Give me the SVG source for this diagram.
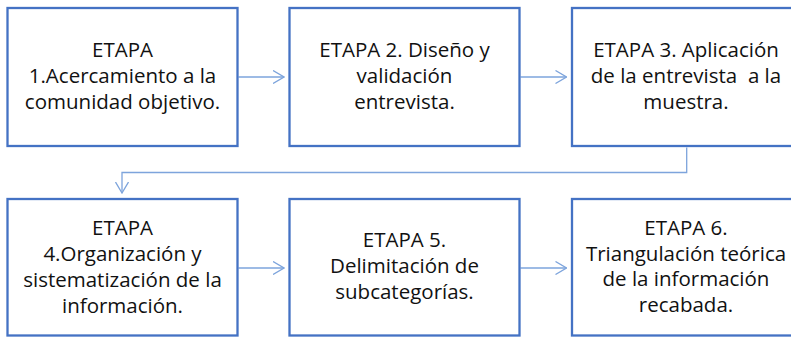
<svg xmlns="http://www.w3.org/2000/svg" width="791" height="337" viewBox="0 0 791 337">
<defs>
<style>
.box{fill:#fff;stroke:#4472C4;stroke-width:2.3}
.t{font-family:"Open Sans","Noto Sans","Liberation Sans",sans-serif;font-size:20.5px;fill:#111;text-anchor:middle;white-space:pre}
.c{fill:none;stroke:#7DA4DC;stroke-width:1.3}
</style>
<marker id="arr" viewBox="0 0 12 14" refX="11.5" refY="7" markerWidth="12" markerHeight="14" markerUnits="userSpaceOnUse" orient="auto">
<path d="M0.5,0.5 L11.5,7 L0.5,13.5" fill="none" stroke="#7DA4DC" stroke-width="1.3"/>
</marker>
</defs>
<rect width="791" height="337" fill="#fff"/>
<g id="connectors">
<line class="c" x1="238.5" y1="77" x2="284" y2="77" marker-end="url(#arr)"/>
<line class="c" x1="520.5" y1="77" x2="566.5" y2="77" marker-end="url(#arr)"/>
<polyline class="c" points="686.7,147.5 686.7,172.5 122,172.5 122,193" marker-end="url(#arr)"/>
<line class="c" x1="238.5" y1="268" x2="284" y2="268" marker-end="url(#arr)"/>
<line class="c" x1="520.5" y1="268" x2="566.5" y2="268" marker-end="url(#arr)"/>
</g>
<g id="n1">
<rect class="box" x="7.5" y="8" width="230" height="138"/>
<text class="t"><tspan x="122.5" y="56.5">ETAPA</tspan><tspan x="122.5" y="82.5">1.Acercamiento a la</tspan><tspan x="122.5" y="108.5">comunidad objetivo.</tspan></text>
</g>
<g id="n2">
<rect class="box" x="289.5" y="8" width="230" height="138"/>
<text class="t"><tspan x="404.5" y="56.5">ETAPA 2. Diseño y</tspan><tspan x="404.5" y="82.5">validación</tspan><tspan x="404.5" y="108.5">entrevista.</tspan></text>
</g>
<g id="n3">
<rect class="box" x="572" y="8" width="229" height="138"/>
<text class="t"><tspan x="686" y="56.5">ETAPA 3. Aplicación</tspan><tspan x="686" y="82.5">de la entrevista  a la</tspan><tspan x="686" y="108.5">muestra.</tspan></text>
</g>
<g id="n4">
<rect class="box" x="7.5" y="199" width="230" height="136.5"/>
<text class="t"><tspan x="122.5" y="235">ETAPA</tspan><tspan x="122.5" y="261">4.Organización y</tspan><tspan x="122.5" y="287">sistematización de la</tspan><tspan x="122.5" y="313">información.</tspan></text>
</g>
<g id="n5">
<rect class="box" x="289.5" y="199" width="230" height="136.5"/>
<text class="t"><tspan x="404.5" y="247">ETAPA 5.</tspan><tspan x="404.5" y="273">Delimitación de</tspan><tspan x="404.5" y="299">subcategorías.</tspan></text>
</g>
<g id="n6">
<rect class="box" x="572" y="199" width="229" height="136.5"/>
<text class="t"><tspan x="686" y="235">ETAPA 6.</tspan><tspan x="686" y="260.5">Triangulación teórica</tspan><tspan x="686" y="286">de la información</tspan><tspan x="686" y="312">recabada.</tspan></text>
</g>
</svg>
